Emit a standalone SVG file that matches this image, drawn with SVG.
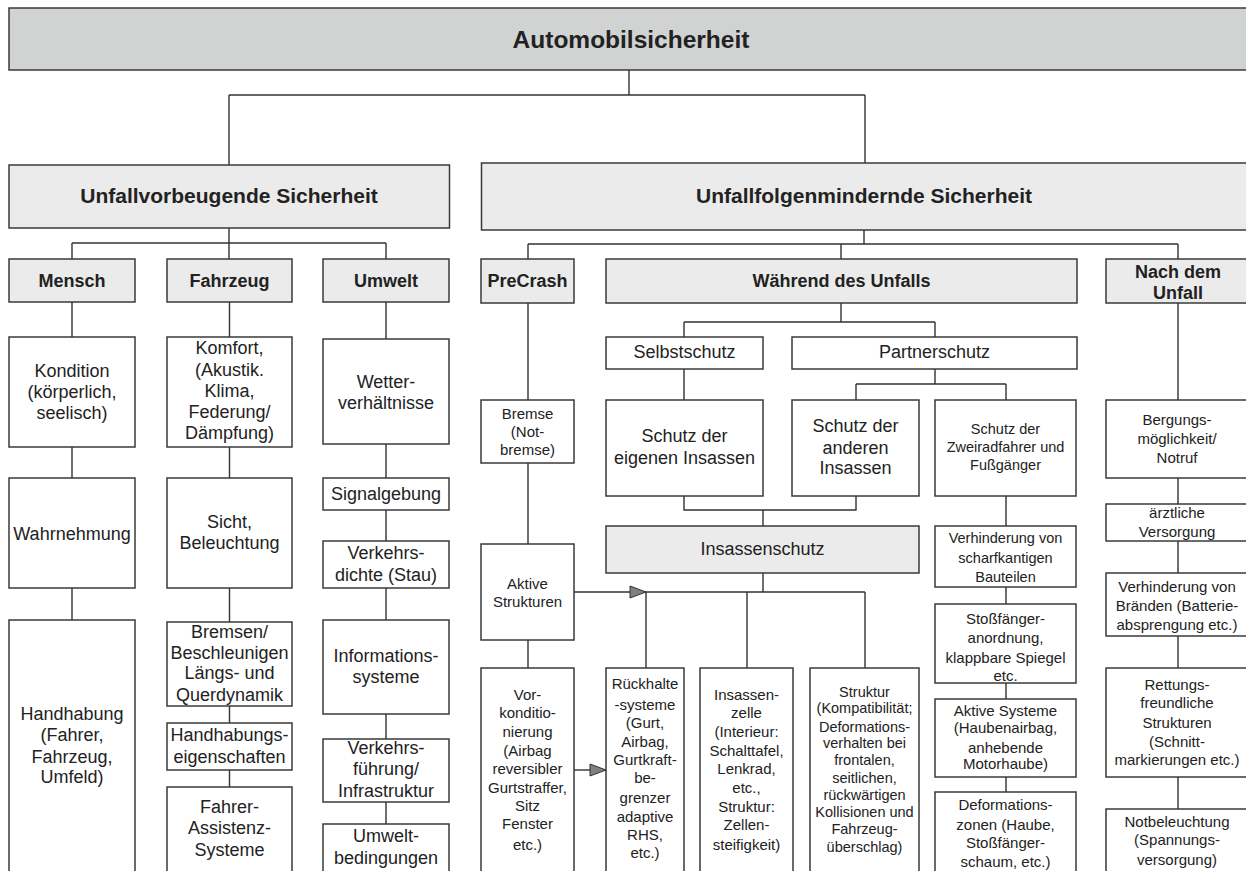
<svg xmlns="http://www.w3.org/2000/svg" width="1246" height="871" viewBox="0 0 1246 871">
<style>
.g0,.g1,.w{stroke:#3a3a3a;stroke-width:1.5}
.g0{fill:#d1d3d2}
.g1{fill:#ebebeb}
.w{fill:#ffffff}
.c{fill:none;stroke:#333;stroke-width:1.4}
text{font-family:"Liberation Sans",Arial,Helvetica,sans-serif;fill:#222;text-anchor:middle}
.h0{font-size:24.5px;font-weight:bold}
.h1{font-size:21px;font-weight:bold}
.h2{font-size:18px;font-weight:bold}
.t18{font-size:18px}
.t15{font-size:15px}
.t14{font-size:14.5px}
</style>
<defs>
<marker id="arr" markerUnits="userSpaceOnUse" markerWidth="18" markerHeight="14" refX="17" refY="7" orient="auto">
<path d="M1,1 L17,7 L1,13 Z" fill="#808080" stroke="#333" stroke-width="1"/>
</marker>
</defs>
<rect x="0" y="0" width="1246" height="871" fill="#fff"/>

<g id="connectors">
<path class="c" d="M629,70 V95 M229,95 H865 M229,95 V165 M865,95 V163"/>
<path class="c" d="M229,228 V243 M72,243 H386 M72,243 V259 M229,243 V259 M386,243 V259"/>
<path class="c" d="M864,230 V244 M528,244 H1178 M528,244 V259 M841,244 V259 M1178,244 V259"/>
<path class="c" d="M72,302 V337 M72,447 V478 M72,588 V620"/>
<path class="c" d="M229.5,302 V337 M229.5,447 V478 M229.5,588 V622 M229.5,706 V723 M229.5,770 V787"/>
<path class="c" d="M386,302 V339 M386,444 V478 M386,510 V541 M386,588 V620 M386,714 V739 M386,802 V824"/>
<path class="c" d="M528,303 V400 M528,463 V544 M528,640 V668"/>
<path class="c" d="M841,303 V322 M684,322 H935 M684,322 V337 M935,322 V337"/>
<path class="c" d="M684,369 V400 M935,369 V384 M856,384 H1006 M856,384 V400 M1006,384 V400"/>
<path class="c" d="M684,496 V510 H856 V496 M763,510 V526"/>
<path class="c" d="M763,573 V592 M646,592 H865 M646,592 V668 M747,592 V668 M865,592 V668"/>
<path class="c" d="M574,592 H646" marker-end="url(#arr)"/>
<path class="c" d="M574,770 H606" marker-end="url(#arr)"/>
<path class="c" d="M1006,496 V526 M1006,587 V604 M1006,683 V699 M1006,777 V792"/>
<path class="c" d="M1178,303 V400 M1178,478 V504 M1178,541 V573 M1178,636 V668 M1178,777 V809"/>
</g>

<g id="automobilsicherheit"><rect class="g0" x="9" y="8" width="1250" height="62"/><text class="h0" x="631" y="48">Automobilsicherheit</text></g>
<g id="unfallvorbeugende"><rect class="g1" x="9" y="165" width="440.5" height="63"/><text class="h1" x="229" y="203">Unfallvorbeugende Sicherheit</text></g>
<g id="unfallfolgenmindernde"><rect class="g1" x="481.5" y="163" width="780" height="67"/><text class="h1" x="864" y="203">Unfallfolgenmindernde Sicherheit</text></g>

<g id="mensch"><rect class="g1" x="9" y="259" width="126" height="43"/><text class="h2" x="72" y="287">Mensch</text></g>
<g id="fahrzeug"><rect class="g1" x="167" y="259" width="125" height="43"/><text class="h2" x="229.5" y="287">Fahrzeug</text></g>
<g id="umwelt"><rect class="g1" x="323" y="259" width="126" height="43"/><text class="h2" x="386" y="287">Umwelt</text></g>
<g id="precrash"><rect class="g1" x="481" y="259" width="93" height="44"/><text class="h2" x="527.5" y="287">PreCrash</text></g>
<g id="waehrend"><rect class="g1" x="606" y="259" width="471" height="44"/><text class="h2" x="841.5" y="287">Während des Unfalls</text></g>
<g id="nach"><rect class="g1" x="1106" y="259" width="160" height="44"/><text class="h2" x="1178"><tspan x="1178" y="278">Nach dem</tspan><tspan x="1178" y="299">Unfall</tspan></text></g>

<g id="kondition"><rect class="w" x="9" y="337" width="126" height="110"/><text class="t18"><tspan x="72" y="377">Kondition</tspan><tspan x="72" y="398">(körperlich,</tspan><tspan x="72" y="419">seelisch)</tspan></text></g>
<g id="komfort"><rect class="w" x="167" y="337" width="125" height="110"/><text class="t18"><tspan x="229.5" y="354">Komfort,</tspan><tspan x="229.5" y="376">(Akustik.</tspan><tspan x="229.5" y="397">Klima,</tspan><tspan x="229.5" y="418">Federung/</tspan><tspan x="229.5" y="439">Dämpfung)</tspan></text></g>
<g id="wetter"><rect class="w" x="323" y="339" width="126" height="105"/><text class="t18"><tspan x="386" y="388">Wetter-</tspan><tspan x="386" y="409">verhältnisse</tspan></text></g>
<g id="wahrnehmung"><rect class="w" x="9" y="478" width="126" height="110"/><text class="t18" x="72" y="540">Wahrnehmung</text></g>
<g id="sicht"><rect class="w" x="167" y="478" width="125" height="110"/><text class="t18"><tspan x="229.5" y="528">Sicht,</tspan><tspan x="229.5" y="549">Beleuchtung</tspan></text></g>
<g id="signalgebung"><rect class="w" x="323" y="478" width="126" height="32"/><text class="t18" x="386" y="500">Signalgebung</text></g>
<g id="verkehrsdichte"><rect class="w" x="323" y="541" width="126" height="47"/><text class="t18"><tspan x="386" y="559">Verkehrs-</tspan><tspan x="386" y="581">dichte (Stau)</tspan></text></g>
<g id="handhabung"><rect class="w" x="9" y="620" width="126" height="270"/><text class="t18"><tspan x="72" y="720">Handhabung</tspan><tspan x="72" y="741">(Fahrer,</tspan><tspan x="72" y="763">Fahrzeug,</tspan><tspan x="72" y="783">Umfeld)</tspan></text></g>
<g id="bremsen"><rect class="w" x="167" y="622" width="125" height="84"/><text class="t18"><tspan x="229.5" y="638">Bremsen/</tspan><tspan x="229.5" y="659">Beschleunigen</tspan><tspan x="229.5" y="679">Längs- und</tspan><tspan x="229.5" y="701">Querdynamik</tspan></text></g>
<g id="handhabungseigenschaften"><rect class="w" x="167" y="723" width="125" height="47"/><text class="t18"><tspan x="229.5" y="741">Handhabungs-</tspan><tspan x="229.5" y="763">eigenschaften</tspan></text></g>
<g id="fahrerassistenz"><rect class="w" x="167" y="787" width="125" height="100"/><text class="t18"><tspan x="229.5" y="813">Fahrer-</tspan><tspan x="229.5" y="834">Assistenz-</tspan><tspan x="229.5" y="856">Systeme</tspan></text></g>
<g id="informationssysteme"><rect class="w" x="323" y="620" width="126" height="94"/><text class="t18"><tspan x="386" y="662">Informations-</tspan><tspan x="386" y="683">systeme</tspan></text></g>
<g id="verkehrsfuehrung"><rect class="w" x="323" y="739" width="126" height="63"/><text class="t18"><tspan x="386" y="754">Verkehrs-</tspan><tspan x="386" y="775">führung/</tspan><tspan x="386" y="797">Infrastruktur</tspan></text></g>
<g id="umweltbedingungen"><rect class="w" x="323" y="824" width="126" height="70"/><text class="t18"><tspan x="386" y="842">Umwelt-</tspan><tspan x="386" y="864">bedingungen</tspan></text></g>

<g id="bremse"><rect class="w" x="481" y="400" width="93" height="63"/><text class="t15"><tspan x="527.5" y="419">Bremse</tspan><tspan x="527.5" y="437">(Not-</tspan><tspan x="527.5" y="455">bremse)</tspan></text></g>
<g id="aktivestrukturen"><rect class="w" x="481" y="544" width="93" height="96"/><text class="t15"><tspan x="527.5" y="589">Aktive</tspan><tspan x="527.5" y="607">Strukturen</tspan></text></g>
<g id="vorkonditionierung"><rect class="w" x="481" y="668" width="93" height="220"/><text class="t15"><tspan x="527.5" y="700">Vor-</tspan><tspan x="527.5" y="718">konditio-</tspan><tspan x="527.5" y="737">nierung</tspan><tspan x="527.5" y="756">(Airbag</tspan><tspan x="527.5" y="774">reversibler</tspan><tspan x="527.5" y="793">Gurtstraffer,</tspan><tspan x="527.5" y="811">Sitz</tspan><tspan x="527.5" y="829">Fenster</tspan><tspan x="527.5" y="850">etc.)</tspan></text></g>

<g id="selbstschutz"><rect class="w" x="606" y="337" width="157" height="32"/><text class="t18" x="684.5" y="358">Selbstschutz</text></g>
<g id="partnerschutz"><rect class="w" x="792" y="337" width="285" height="32"/><text class="t18" x="934.5" y="358">Partnerschutz</text></g>
<g id="eigeneinsassen"><rect class="w" x="606" y="400" width="157" height="96"/><text class="t18"><tspan x="684.5" y="442">Schutz der</tspan><tspan x="684.5" y="464">eigenen Insassen</tspan></text></g>
<g id="andereinsassen"><rect class="w" x="792" y="400" width="127" height="96"/><text class="t18"><tspan x="855.5" y="432">Schutz der</tspan><tspan x="855.5" y="454">anderen</tspan><tspan x="855.5" y="474">Insassen</tspan></text></g>
<g id="zweiradfahrer"><rect class="w" x="935" y="400" width="141" height="96"/><text class="t14"><tspan x="1005.5" y="434">Schutz der</tspan><tspan x="1005.5" y="452">Zweiradfahrer und</tspan><tspan x="1005.5" y="470">Fußgänger</tspan></text></g>
<g id="insassenschutz"><rect class="g1" x="606" y="526" width="313" height="47"/><text class="t18" x="762.5" y="555">Insassenschutz</text></g>
<g id="rueckhaltesysteme"><rect class="w" x="606" y="668" width="78" height="220"/><text class="t15"><tspan x="645" y="689">Rückhalte</tspan><tspan x="645" y="710">-systeme</tspan><tspan x="645" y="728">(Gurt,</tspan><tspan x="645" y="747">Airbag,</tspan><tspan x="645" y="765">Gurtkraft-</tspan><tspan x="645" y="783">be-</tspan><tspan x="645" y="803">grenzer</tspan><tspan x="645" y="822">adaptive</tspan><tspan x="645" y="840">RHS,</tspan><tspan x="645" y="858">etc.)</tspan></text></g>
<g id="insassenzelle"><rect class="w" x="700" y="668" width="93" height="220"/><text class="t15"><tspan x="746.5" y="700">Insassen-</tspan><tspan x="746.5" y="718">zelle</tspan><tspan x="746.5" y="737">(Interieur:</tspan><tspan x="746.5" y="756">Schalttafel,</tspan><tspan x="746.5" y="774">Lenkrad,</tspan><tspan x="746.5" y="793">etc.,</tspan><tspan x="746.5" y="812">Struktur:</tspan><tspan x="746.5" y="830">Zellen-</tspan><tspan x="746.5" y="850">steifigkeit)</tspan></text></g>
<g id="struktur"><rect class="w" x="810" y="668" width="109" height="220"/><text class="t14"><tspan x="864.5" y="697">Struktur</tspan><tspan x="864.5" y="713">(Kompatibilität;</tspan><tspan x="864.5" y="732">Deformations-</tspan><tspan x="864.5" y="748">verhalten bei</tspan><tspan x="864.5" y="765">frontalen,</tspan><tspan x="864.5" y="783">seitlichen,</tspan><tspan x="864.5" y="800">rückwärtigen</tspan><tspan x="864.5" y="817">Kollisionen und</tspan><tspan x="864.5" y="834">Fahrzeug-</tspan><tspan x="864.5" y="852">überschlag)</tspan></text></g>

<g id="scharfkantig"><rect class="w" x="935" y="526" width="141" height="61"/><text class="t14"><tspan x="1005.5" y="543">Verhinderung von</tspan><tspan x="1005.5" y="563">scharfkantigen</tspan><tspan x="1005.5" y="582">Bauteilen</tspan></text></g>
<g id="stossfaenger"><rect class="w" x="935" y="604" width="141" height="79"/><text class="t15"><tspan x="1005.5" y="624">Stoßfänger-</tspan><tspan x="1005.5" y="643">anordnung,</tspan><tspan x="1005.5" y="663">klappbare Spiegel</tspan><tspan x="1005.5" y="681">etc.</tspan></text></g>
<g id="aktivesysteme"><rect class="w" x="935" y="699" width="141" height="78"/><text class="t15"><tspan x="1005.5" y="716">Aktive Systeme</tspan><tspan x="1005.5" y="733">(Haubenairbag,</tspan><tspan x="1005.5" y="753">anhebende</tspan><tspan x="1005.5" y="769">Motorhaube)</tspan></text></g>
<g id="deformationszonen"><rect class="w" x="935" y="792" width="141" height="96"/><text class="t15"><tspan x="1005.5" y="810">Deformations-</tspan><tspan x="1005.5" y="830">zonen (Haube,</tspan><tspan x="1005.5" y="848">Stoßfänger-</tspan><tspan x="1005.5" y="867">schaum, etc.)</tspan></text></g>

<g id="bergung"><rect class="w" x="1106" y="400" width="160" height="78"/><text class="t15"><tspan x="1177" y="425">Bergungs-</tspan><tspan x="1177" y="444">möglichkeit/</tspan><tspan x="1177" y="463">Notruf</tspan></text></g>
<g id="aerztlich"><rect class="w" x="1106" y="504" width="160" height="37"/><text class="t15"><tspan x="1177" y="518">ärztliche</tspan><tspan x="1177" y="537">Versorgung</tspan></text></g>
<g id="braende"><rect class="w" x="1106" y="573" width="160" height="63"/><text class="t15"><tspan x="1177" y="592">Verhinderung von</tspan><tspan x="1177" y="611">Bränden (Batterie-</tspan><tspan x="1177" y="630">absprengung etc.)</tspan></text></g>
<g id="rettung"><rect class="w" x="1106" y="668" width="160" height="109"/><text class="t15"><tspan x="1177" y="690">Rettungs-</tspan><tspan x="1177" y="708">freundliche</tspan><tspan x="1177" y="728">Strukturen</tspan><tspan x="1177" y="747">(Schnitt-</tspan><tspan x="1177" y="765">markierungen etc.)</tspan></text></g>
<g id="notbeleuchtung"><rect class="w" x="1106" y="809" width="160" height="80"/><text class="t15"><tspan x="1177" y="827">Notbeleuchtung</tspan><tspan x="1177" y="845">(Spannungs-</tspan><tspan x="1177" y="865">versorgung)</tspan></text></g>
</svg>
